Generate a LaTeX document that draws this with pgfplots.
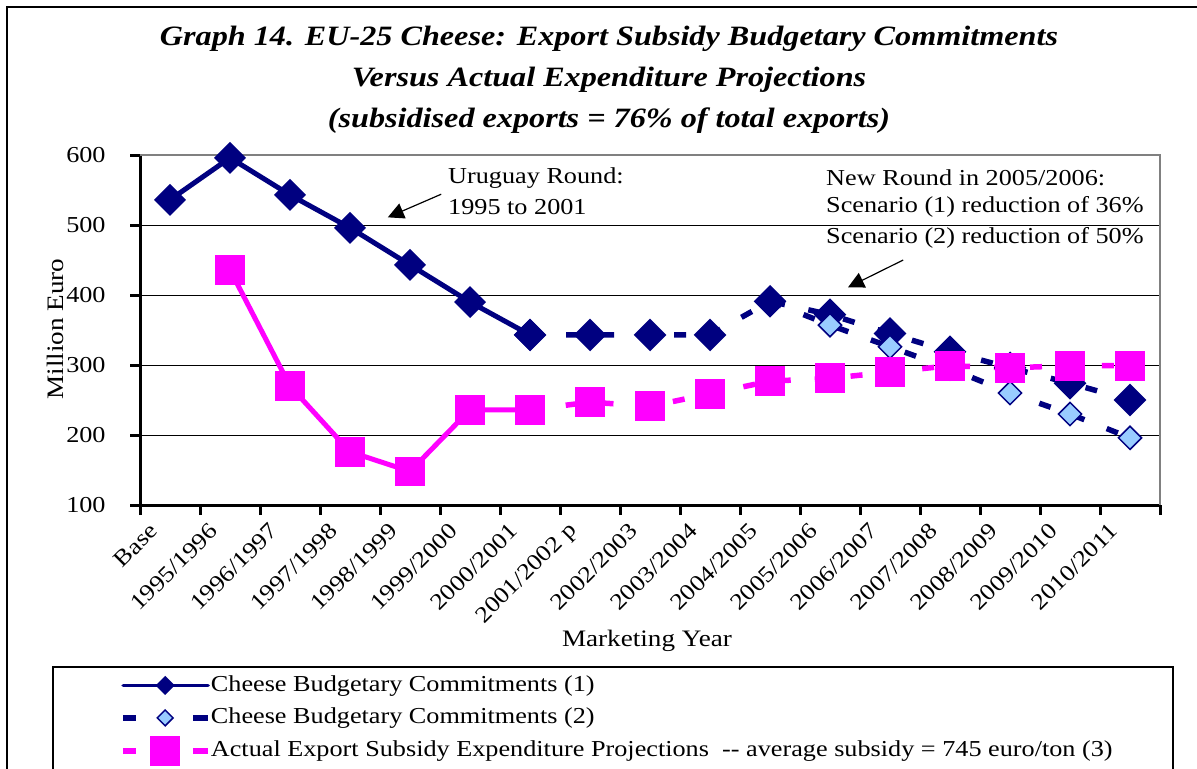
\documentclass[border=0pt]{standalone}
\usepackage{fontspec}
\setmainfont{Liberation Serif}[FakeStretch=1.15]
\usepackage{pgfplots}
\pgfplotsset{compat=1.18}
\usetikzlibrary{arrows.meta}
\definecolor{navy}{RGB}{0,0,128}
\definecolor{lightdia}{RGB}{153,204,255}
\definecolor{pinkish}{RGB}{255,0,255}
\newcommand{\bodyfont}{\fontsize{11.4}{13}\selectfont}
\newcommand{\labfont}{\fontsize{11.8}{14}\selectfont}
\pgfplotsset{
  legsolid/.style={legend image code/.code={\draw[##1] (0pt,0pt) -- (42.5pt,0pt);
    \draw[##1, only marks] plot coordinates {(21pt,0pt)};}},
  legdash/.style={legend image code/.code={\draw[##1] (0pt,0pt) -- (6.5pt,0pt) (35pt,0pt) -- (42.5pt,0pt);
    \draw[##1, only marks] plot coordinates {(21pt,0pt)};}},
}

\begin{document}
\begin{tikzpicture}
\useasboundingbox (0,0) rectangle (598.5pt,-384pt);
\clip (0,0) rectangle (598.5pt,-384pt);
% outer frame and legend frame (both run off the page)
\draw[line width=0.75pt] (3.5pt,-3.5pt) rectangle (620pt,-420pt);
\draw[line width=0.6pt] (26.5pt,-333.5pt) rectangle (586.5pt,-430pt);
\node[font=\fontsize{14}{20.5}\selectfont\bfseries\itshape, align=center] at (304.5pt,-40pt)
  {Graph 14. EU-25 Cheese: Export Subsidy Budgetary Commitments\\
   Versus Actual Expenditure Projections\\
   (subsidised exports = 76\% of total exports)};
\node[font=\labfont, rotate=90, anchor=center] at (27.5pt,-164.5pt) {Million Euro};

\begin{axis}[
  at={(70pt,-252.5pt)}, anchor=south west,
  width=510pt, height=175pt, scale only axis,
  xmin=-0.5, xmax=16.5, ymin=100, ymax=600,
  axis x line*=bottom, axis y line*=left,
  axis line style={line width=1.5pt, black},
  tick style={line width=1.5pt, black},
  tick align=outside, major tick length=5pt,
  xtick={-0.5,0.5,...,16.5}, xticklabels={},
  extra x ticks={0,1,...,16},
  extra x tick labels={Base,1995/1996,1996/1997,1997/1998,1998/1999,1999/2000,2000/2001,2001/2002 p,2002/2003,2003/2004,2004/2005,2005/2006,2006/2007,2007/2008,2008/2009,2009/2010,2010/2011},
  extra x tick style={major tick length=0pt},
  ytick={100,200,...,600},
  ymajorgrids, grid style={black, line width=0.5pt},
  /pgf/number format/assume math mode=true,
  tick label style={font=\bodyfont},
  xticklabel style={inner sep=0pt, xshift=-8pt, yshift=-11pt, rotate=45, anchor=east},
  yticklabel style={inner sep=0pt, anchor=east, xshift=-12pt},
  xlabel={Marketing Year},
  every axis x label/.style={at={(axis description cs:0.497,-0.389)}, anchor=center, font=\labfont},
  clip=false,
  legend cell align=left,
  legend style={at={(axis description cs:-0.0196,-0.48)}, anchor=north west,
    draw=none, fill=none, inner sep=0pt, font=\bodyfont,
    nodes={inner sep=0pt, text height=9pt, text depth=3pt},
    row sep=4.25pt, column sep=0pt},
]
\draw[gray, line width=1pt] (rel axis cs:0,1) -- (rel axis cs:1,1) -- (rel axis cs:1,0);

% Cheese Budgetary Commitments (1), Uruguay Round period
\addplot[navy, line width=2.5pt, mark=square*, mark size=4.4pt,
  mark options={rotate=45, fill=navy, draw=navy}, forget plot]
  coordinates {(0,536) (1,596) (2,543) (3,496) (4,443) (5,390) (6,343)};
% scenario (1) projection
\addplot[navy, line width=2.75pt, dash pattern=on 6pt off 12pt, mark=square*, mark size=4.4pt,
  mark options={rotate=45, solid, fill=navy, draw=navy}, forget plot]
  coordinates {(6,343) (7,343) (8,343) (9,343) (10,391) (11,372) (12,345) (13,319) (14,296) (15,274) (16,250)};
% scenario (2) projection
\addplot[navy, line width=2.75pt, dash pattern=on 6pt off 12pt, mark=square*, mark size=4.1pt,
  mark indices={2,3,4,5,6,7},
  mark options={rotate=45, solid, fill=lightdia, draw=navy, line width=0.75pt}, forget plot]
  coordinates {(10,391) (11,357) (12,326) (13,295) (14,260) (15,230) (16,196)};
% actual expenditure
\addplot[pinkish, line width=2.5pt, mark=square*, mark size=6.2pt,
  mark options={fill=pinkish, draw=pinkish}, forget plot]
  coordinates {(1,436) (2,270) (3,176) (4,148) (5,236) (6,236)};
\addplot[pinkish, line width=2.75pt, dash pattern=on 6pt off 12pt, mark=square*, mark size=6.2pt,
  mark options={solid, fill=pinkish, draw=pinkish}, forget plot]
  coordinates {(6,236) (7,247) (8,241) (9,259) (10,277) (11,281) (12,290) (13,299) (14,296) (15,299) (16,299)};

\addlegendimage{navy, line width=1.75pt, line cap=round, mark=square*, mark size=2.5pt,
  mark options={rotate=45, fill=navy, draw=navy}, legsolid}
\addlegendentry{Cheese Budgetary Commitments (1)}
\addlegendimage{navy, line width=2.75pt, mark=square*, mark size=2.8pt,
  mark options={rotate=45, fill=lightdia, draw=navy, line width=0.75pt}, legdash}
\addlegendentry{Cheese Budgetary Commitments (2)}
\addlegendimage{pinkish, line width=2.75pt, mark=square*, mark size=6.2pt,
  mark options={fill=pinkish, draw=pinkish}, legdash}
\addlegendentry{Actual Export Subsidy Expenditure Projections\ \ -{}- average subsidy = 745 euro/ton (3)}

% annotations
\node[font=\bodyfont, anchor=west, inner sep=0pt] at (axis cs:4.63,567) {Uruguay Round:};
\node[font=\bodyfont, anchor=west, inner sep=0pt] at (axis cs:4.63,526) {1995 to 2001};
\draw[line width=0.6pt, -{Triangle[length=8pt, width=8pt]}] (axis cs:4.52,544) -- (axis cs:3.63,511);
\node[font=\bodyfont, anchor=west, inner sep=0pt] at (axis cs:10.93,567) {New Round in 2005/2006:};
\node[font=\bodyfont, anchor=west, inner sep=0pt] at (axis cs:10.93,526) {Scenario (1) reduction of 36\%};
\node[font=\bodyfont, anchor=west, inner sep=0pt] at (axis cs:10.93,481) {Scenario (2) reduction of 50\%};
\draw[line width=0.6pt, -{Triangle[length=8pt, width=8pt]}] (axis cs:12.22,450) -- (axis cs:11.3,411);
\end{axis}
\end{tikzpicture}
\end{document}
